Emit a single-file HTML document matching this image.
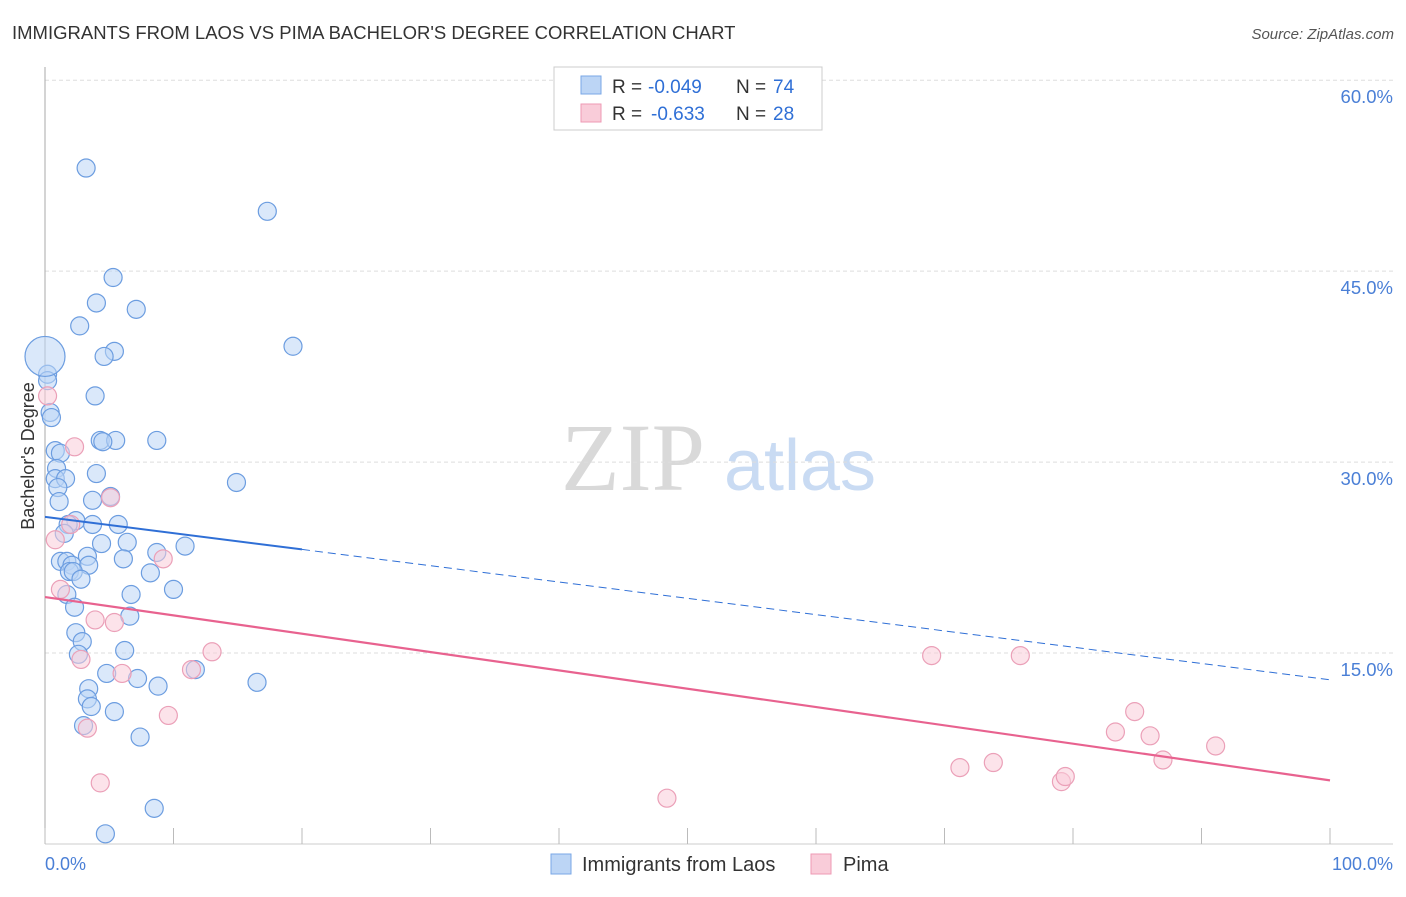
<!DOCTYPE html>
<html><head><meta charset="utf-8"><style>
body{margin:0;background:#fff;font-family:"Liberation Sans",sans-serif}
</style></head><body>
<svg id="chart" width="1406" height="892" xmlns="http://www.w3.org/2000/svg" font-family="Liberation Sans, sans-serif">
<text x="12" y="39" font-size="18.5" fill="#333">IMMIGRANTS FROM LAOS VS PIMA BACHELOR'S DEGREE CORRELATION CHART</text>
<text x="1394" y="39" font-size="15" fill="#555" font-style="italic" text-anchor="end">Source: ZipAtlas.com</text>
<g>
<text x="633" y="490" font-size="96" font-family="Liberation Serif, serif" fill="#d9d9d9" text-anchor="middle">ZIP</text>
<text x="800" y="490" font-size="72" fill="#c9dbf3" text-anchor="middle">atlas</text>
</g>
<g id="grid"></g>
<g id="axes"></g>
<g id="marks"></g>
<text transform="translate(34,456) rotate(-90)" font-size="18" fill="#333" text-anchor="middle">Bachelor's Degree</text>
<text x="45" y="870" font-size="18" fill="#4a7fd6">0.0%</text>
<text x="1393" y="870" font-size="18" fill="#4a7fd6" text-anchor="end">100.0%</text>
<g>
<rect x="554" y="67" width="268" height="63" fill="#fff" stroke="#ccc"/>
<rect x="581" y="76" width="20" height="18" fill="#bcd5f5" stroke="#7aa7e6"/>
<rect x="581" y="104" width="20" height="18" fill="#f9ccd9" stroke="#ee9ab4"/>
<text x="612" y="93" font-size="19" fill="#333">R =</text>
<text x="648" y="93" font-size="19" fill="#2f6fd6">-0.049</text>
<text x="736" y="93" font-size="19" fill="#333">N =</text>
<text x="773" y="93" font-size="19" fill="#2f6fd6">74</text>
<text x="612" y="120" font-size="19" fill="#333">R =</text>
<text x="651" y="120" font-size="19" fill="#2f6fd6">-0.633</text>
<text x="736" y="120" font-size="19" fill="#333">N =</text>
<text x="773" y="120" font-size="19" fill="#2f6fd6">28</text>
</g>
<g>
<rect x="551" y="854" width="20" height="20" fill="#bcd5f5" stroke="#7aa7e6"/>
<text x="582" y="871" font-size="20" fill="#333">Immigrants from Laos</text>
<rect x="811" y="854" width="20" height="20" fill="#f9ccd9" stroke="#ee9ab4"/>
<text x="843" y="871" font-size="20" fill="#333">Pima</text>
</g>
</svg>
<script>
const yTicks=[15,30,45,60];
const yTickLabels=["15.0%","30.0%","45.0%","60.0%"];
const xTicks=[0,10,20,30,40,50,60,70,80,90,100];
const laosX=[3.2,17.3,5.3,4.0,7.1,2.7,19.3,5.4,4.6,0.2,0.2,3.9,0.4,0.5,4.3,5.5,8.7,4.5,0.8,1.2,0.9,4.0,0.8,1.6,14.9,1.0,5.1,3.7,1.1,2.4,1.8,3.7,5.7,1.5,4.4,6.4,10.9,8.7,3.3,6.1,1.2,1.7,2.1,3.4,1.9,2.2,8.2,2.8,10.0,6.7,1.7,2.3,6.6,2.4,2.9,6.2,2.6,4.8,11.7,7.2,16.5,8.8,3.4,3.3,3.6,5.4,3.0,7.4,8.5,4.7];
const laosY=[53.1,49.7,44.5,42.5,42.0,40.7,39.1,38.7,38.3,36.9,36.4,35.2,33.9,33.5,31.7,31.7,31.7,31.6,30.9,30.7,29.5,29.1,28.7,28.7,28.4,28.0,27.3,27.0,26.9,25.4,25.1,25.1,25.1,24.4,23.6,23.7,23.4,22.9,22.6,22.4,22.2,22.2,21.9,21.9,21.4,21.4,21.3,20.8,20.0,19.6,19.6,18.6,17.9,16.6,15.9,15.2,14.9,13.4,13.7,13.0,12.7,12.4,12.2,11.4,10.8,10.4,9.3,8.4,2.8,0.8];
const laosBigX=[0];const laosBigY=[38.3];
const pimaX=[0.2,2.3,5.1,2.0,0.8,9.2,1.2,3.9,5.4,13.0,2.8,11.4,6.0,9.6,3.3,4.3,48.4,69.0,75.9,71.2,73.8,84.8,83.3,86.0,91.1,87.0,79.1,79.4];
const pimaY=[35.2,31.2,27.2,25.1,23.9,22.4,20.0,17.6,17.4,15.1,14.5,13.7,13.4,10.1,9.1,4.8,3.6,14.8,14.8,6.0,6.4,10.4,8.8,8.5,7.7,6.6,4.9,5.3];
const laosTrend=[25.7,12.9];
const pimaTrend=[19.4,5.0];
const NS="http://www.w3.org/2000/svg";
const sx=v=>45+v*12.85, sy=v=>844-v*12.73;
function mk(tag,attrs,parent){const e=document.createElementNS(NS,tag);for(const k in attrs)e.setAttribute(k,attrs[k]);document.getElementById(parent).appendChild(e);return e;}
yTicks.forEach((t,i)=>{
 const g=mk('line',{x1:45,x2:1393,y1:sy(t),y2:sy(t),stroke:'#ddd','stroke-dasharray':'4,3'},'grid');
 
 
 const l=mk('text',{x:1393,y:sy(t)+23,'font-size':18.5,fill:'#4a7fd6','text-anchor':'end'},'grid');
 l.textContent=yTickLabels[i];
 
 
});
const ax=mk('line',{x1:45,x2:1393,y1:844,y2:844,stroke:'#ccc'},'axes');


const ay=mk('line',{x1:45,x2:45,y1:67,y2:844,stroke:'#aaa'},'axes');


xTicks.forEach(t=>{const e=mk('line',{x1:sx(t),x2:sx(t),y1:828,y2:844,stroke:'#bbb'},'axes');
 
 });
function dot(x,y,r,fill,stroke,name){const c=mk('circle',{cx:sx(x),cy:sy(y),r:r,fill:fill,'fill-opacity':0.55,stroke:stroke,'stroke-width':1.2},'marks');
 
 }
laosX.forEach((x,i)=>dot(x,laosY[i],9,'#bcd5f5','#6c9de0','laos-point'));
laosBigX.forEach((x,i)=>dot(x,laosBigY[i],20,'#bcd5f5','#6c9de0','laos-point'));
pimaX.forEach((x,i)=>dot(x,pimaY[i],9,'#f9ccd9','#eba0b8','pima-point'));
const lt=v=>laosTrend[0]+(laosTrend[1]-laosTrend[0])*v/100;
const t1=mk('line',{x1:sx(0),y1:sy(lt(0)),x2:sx(20),y2:sy(lt(20)),stroke:'#2f6fd6','stroke-width':2},'marks');


const t2=mk('line',{x1:sx(20),y1:sy(lt(20)),x2:sx(100),y2:sy(lt(100)),stroke:'#2f6fd6','stroke-width':1,'stroke-dasharray':'8,5'},'marks');


const t3=mk('line',{x1:sx(0),y1:sy(pimaTrend[0]),x2:sx(100),y2:sy(pimaTrend[1]),stroke:'#e8628f','stroke-width':2.2},'marks');


</script>
</body></html>
